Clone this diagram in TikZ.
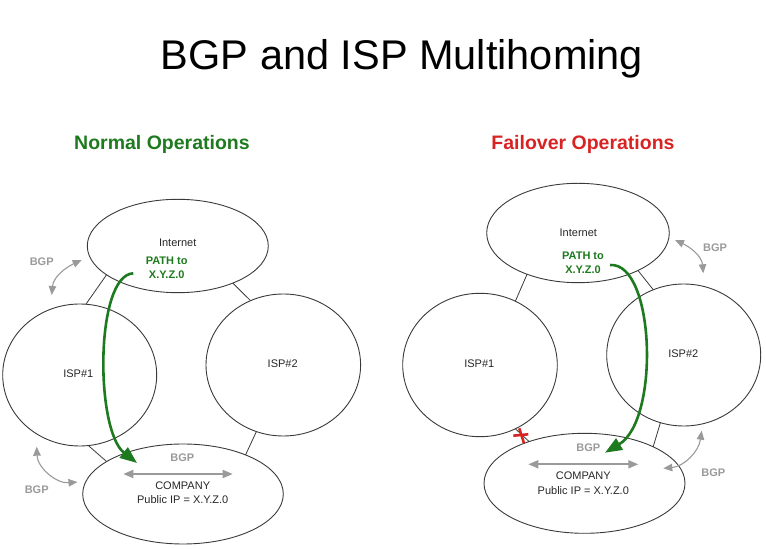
\documentclass[tikz,border=0pt]{standalone}
\usepackage{fontspec}
\setmainfont{Liberation Sans}
\usetikzlibrary{arrows.meta,shapes.geometric}
\definecolor{pathgreen}{HTML}{1E7A1E}
\definecolor{failred}{HTML}{D92323}
\definecolor{bgpgray}{HTML}{9A9A9A}
\definecolor{linegray}{HTML}{3A3A3A}
\begin{document}
\begin{tikzpicture}[x=1pt,y=1pt,
  cloud/.style={ellipse, draw=linegray, line width=0.9pt, inner sep=0pt, outer sep=0pt},
  lbl/.style={font=\fontsize{11}{13}\selectfont, text=black!85, inner sep=0pt},
  twolbl/.style={font=\fontsize{11}{14.5}\selectfont, text=black!85, inner sep=0pt, align=center},
  pathlbl/.style={font=\fontsize{11}{13.3}\selectfont\bfseries, text=pathgreen, align=center, inner sep=0pt},
  bgplbl/.style={font=\fontsize{11}{13}\selectfont\bfseries, text=bgpgray, inner sep=0pt},
  headlbl/.style={font=\fontsize{19.5}{23}\selectfont\bfseries, anchor=base, inner sep=0pt},
  link/.style={draw=linegray, line width=0.8pt},
  bgparrow/.style={draw=bgpgray, line width=1.1pt, {Triangle[length=9pt,width=7.5pt]}-{Triangle[length=9pt,width=7.5pt]}},
  bgpbar/.style={draw=bgpgray, line width=1.8pt, {Triangle[length=10pt,width=8pt]}-{Triangle[length=10pt,width=8pt]}},
  route/.style={draw=pathgreen, line width=2.6pt, -{Triangle[length=17pt,width=13pt]}},
  cross/.style={draw=failred, line width=2.6pt}
]
\useasboundingbox (0,0) rectangle (766,549);

% title and headings
\node[font=\fontsize{41.5}{48}\selectfont, anchor=base, inner sep=0pt] (title) at (402,479) {BGP and ISP Multihoming};
\node[headlbl, text=pathgreen] (normal) at (162,399) {Normal Operations};
\node[headlbl, text=failred] (failover) at (583,399) {Failover Operations};

% ---------------- left: normal operations ----------------
\node[cloud, minimum width=181pt, minimum height=93.4pt] (inetL) at (177.8,303) {};
\node[cloud, minimum width=154pt, minimum height=142pt] (isp1L) at (79.7,174) {};
\node[cloud, minimum width=154.6pt, minimum height=142pt] (isp2L) at (283.3,184) {};
\node[cloud, minimum width=200.6pt, minimum height=100pt] (compL) at (183,55) {};

\draw[link] (inetL.202.7) -- (isp1L.85);
\draw[link] (inetL.326) -- (isp2L.117.4);
\draw[link] (isp1L.277.7) -- (compL.157.7);
\draw[link] (isp2L.248) -- (compL.32.2);

\node[lbl] (inetLtxt) at (177.7,306.7) {Internet};
\node[pathlbl] (pathL) at (166.7,281.3) {PATH to\\X.Y.Z.0};
\node[lbl] (isp1Ltxt) at (78.3,175.7) {ISP\#1};
\node[lbl] (isp2Ltxt) at (282.7,185.7) {ISP\#2};
\node[bgplbl] (bgpLc) at (182.3,91.7) {BGP};
\node[twolbl] (compLtxt) at (182.7,56.5) {COMPANY\\Public IP = X.Y.Z.0};
\node[bgplbl] (bgpLt) at (41.7,287) {BGP};
\node[bgplbl] (bgpLb) at (36.7,59) {BGP};

\coordinate (bLa) at (123.3,75);
\coordinate (bLb) at (232.7,75);
\draw[bgpbar] (bLa) -- (bLb);

\coordinate (tLa) at (81.7,289);
\coordinate (tLb) at (51.7,254);
\draw[bgparrow] (tLa) to[out=205,in=85] (tLb);
\coordinate (uLa) at (36.7,102.3);
\coordinate (uLb) at (77.5,67);
\draw[bgparrow] (uLa) to[out=272,in=185] (uLb);

\coordinate (gLs) at (133.3,275.7);
\coordinate (gLe) at (137,86);
\draw[route] (gLs) .. controls (95,274) and (95,119) .. (gLe);

% ---------------- right: failover operations ----------------
\node[cloud, minimum width=182.6pt, minimum height=99.4pt] (inetR) at (578,316) {};
\node[cloud, minimum width=154.6pt, minimum height=143.4pt] (isp1R) at (480,184) {};
\node[cloud, minimum width=154pt, minimum height=142pt] (isp2R) at (683.7,194) {};
\node[cloud, minimum width=201pt, minimum height=100pt] (compR) at (584.5,65.7) {};

\draw[link] (inetR.219.9) -- (isp1R.61.3);
\draw[link] (inetR.328.7) -- (isp2R.115.5);
\draw[link] (isp2R.251.1) -- (compR.28.6);
\draw[link] (isp1R.299.7) -- (compR.143.5);

\node[lbl] (inetRtxt) at (578.3,316.7) {Internet};
\node[pathlbl] (pathR) at (583,286.3) {PATH to\\X.Y.Z.0};
\node[lbl] (isp1Rtxt) at (479.3,185.7) {ISP\#1};
\node[lbl] (isp2Rtxt) at (683.3,195.7) {ISP\#2};
\node[bgplbl] (bgpRc) at (588.3,101) {BGP};
\node[twolbl] (compRtxt) at (583.3,66) {COMPANY\\Public IP = X.Y.Z.0};
\node[bgplbl] (bgpRt) at (715,301.3) {BGP};
\node[bgplbl] (bgpRb) at (713.3,76.3) {BGP};

\coordinate (bRa) at (528.3,84.7);
\coordinate (bRb) at (638.3,84.7);
\draw[bgpbar] (bRa) -- (bRb);

\coordinate (tRa) at (675,309);
\coordinate (tRb) at (703.3,275.7);
\draw[bgparrow] (tRa) to[out=-25,in=95] (tRb);
\coordinate (uRa) at (701.7,118.3);
\coordinate (uRb) at (663.3,80.7);
\draw[bgparrow] (uRa) to[out=262,in=5] (uRb);

\coordinate (gRs) at (610,284);
\coordinate (gRe) at (605,96.3);
\draw[route] (gRs) .. controls (655,287) and (660,129) .. (gRe);

% broken link marker
\coordinate (cut) at (521,114);
\draw[cross] ([shift={(-7.7,-0.7)}]cut) -- ([shift={(7.3,0.7)}]cut);
\draw[cross] ([shift={(-1.7,6.7)}]cut) -- ([shift={(3,-8.3)}]cut);
\end{tikzpicture}
\end{document}
